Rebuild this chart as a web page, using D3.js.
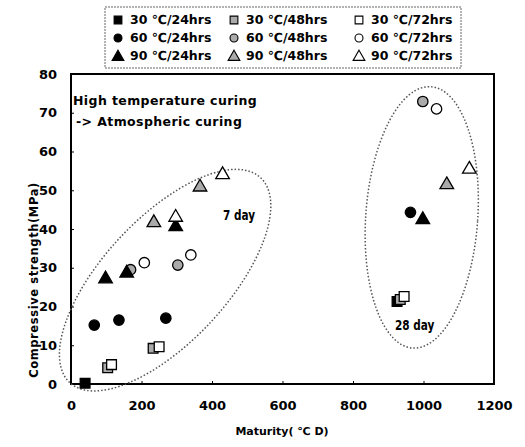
<!DOCTYPE html>
<html>
<head>
<meta charset="utf-8">
<script src="https://cdn.jsdelivr.net/npm/d3@7"></script>
<style>
  body { margin: 0; background: #fff; }
  text { font-family: "DejaVu Sans", sans-serif; font-weight: bold; }
</style>
</head>
<body>
<script>
// series names, [maturity, strength] pairs
var seriesNames = ["30 ℃/24hrs", "30 ℃/48hrs", "30 ℃/72hrs",
                   "60 ℃/24hrs", "60 ℃/48hrs", "60 ℃/72hrs",
                   "90 ℃/24hrs", "90 ℃/48hrs", "90 ℃/72hrs"];
var s30_24 = [[40, 0.2], [925, 21.3]];
var s30_48 = [[104, 4.2], [233, 9.2], [934, 21.8]];
var s30_72 = [[115, 5.0], [250, 9.6], [945, 22.6]];
var s60_24 = [[66, 15.2], [136, 16.5], [269, 17.0], [963, 44.3]];
var s60_48 = [[169, 29.5], [303, 30.7], [998, 72.9]];
var s60_72 = [[208, 31.3], [340, 33.3], [1037, 71.0]];
var s90_24 = [[98, 27.5], [158, 29.0], [297, 41.0], [998, 42.8]];
var s90_48 = [[235, 42.0], [366, 51.2], [1066, 51.8]];
var s90_72 = [[297, 43.4], [430, 54.4], [1130, 55.8]];
var xTicks = [0, 200, 400, 600, 800, 1000, 1200];
var yTicks = [0, 10, 20, 30, 40, 50, 60, 70, 80];

var allSeries = [s30_24, s30_48, s30_72, s60_24, s60_48, s60_72, s90_24, s90_48, s90_72];
var shapes = ["square", "square", "square", "circle", "circle", "circle", "triangle", "triangle", "triangle"];
var fills = ["#000", "#aaa", "#fff", "#000", "#aaa", "#fff", "#000", "#aaa", "#fff"];

var width = 525, height = 447;
var svg = d3.select("body").append("svg")
    .attr("width", width).attr("height", height);

var x = d3.scaleLinear().domain([0, 1200]).range([71, 494]);
var y = d3.scaleLinear().domain([0, 80]).range([384, 74]);

var symType = {square: d3.symbolSquare, circle: d3.symbolCircle, triangle: d3.symbolTriangle};
var symSize = {square: 95, circle: 85, triangle: 80};
function sym(s) { return d3.symbol().type(symType[s]).size(symSize[s])(); }

// frame
svg.append("rect")
    .attr("x", 71).attr("y", 74).attr("width", 423).attr("height", 310)
    .attr("fill", "none").attr("stroke", "#000").attr("stroke-width", 2);

// axes
var xAxis = svg.append("g").attr("transform", "translate(0,384)")
    .call(d3.axisBottom(x).tickValues(xTicks).tickFormat(d3.format("d")).tickSize(-3).tickPadding(17));
var yAxis = svg.append("g").attr("transform", "translate(71,0)")
    .call(d3.axisLeft(y).tickValues(yTicks).tickSize(-3).tickPadding(14));
[xAxis, yAxis].forEach(function(a) {
  a.select(".domain").remove();
  a.selectAll("text").attr("font-size", 13).attr("fill", "#000")
    .style("font-family", "'DejaVu Sans', sans-serif").style("font-weight", "bold");
});

svg.append("text").attr("x", 282).attr("y", 435).attr("text-anchor", "middle")
    .attr("font-size", 11).text("Maturity( ℃ D)");
svg.append("text").attr("transform", "translate(38,280) rotate(-90)")
    .attr("text-anchor", "middle").attr("font-size", 11.5).attr("letter-spacing", 0.6)
    .text("Compressive strength(MPa)");

// dotted ellipses
svg.append("ellipse")
    .attr("transform", "translate(" + x(267) + "," + y(26.8) + ") rotate(-47)")
    .attr("rx", 140).attr("ry", 62)
    .attr("fill", "none").attr("stroke", "#555").attr("stroke-width", 1.5)
    .attr("stroke-dasharray", "1.5,2");
svg.append("ellipse")
    .attr("transform", "translate(" + x(995) + "," + y(43) + ") rotate(4)")
    .attr("rx", 56).attr("ry", 131)
    .attr("fill", "none").attr("stroke", "#555").attr("stroke-width", 1.5)
    .attr("stroke-dasharray", "1.5,2");

svg.append("text").attr("x", 73).attr("y", 105).attr("font-size", 12.5).attr("letter-spacing", 0.4)
    .text("High temperature curing");
svg.append("text").attr("x", 76).attr("y", 126).attr("font-size", 12.5).attr("letter-spacing", 0.4)
    .text(" -> Atmospheric curing");
svg.append("text").attr("x", 223).attr("y", 220).attr("font-size", 14)
    .attr("transform", "translate(223,220) scale(0.75,1) translate(-223,-220)")
    .text("7 day");
svg.append("text").attr("x", 395).attr("y", 330).attr("font-size", 14)
    .attr("transform", "translate(395,330) scale(0.75,1) translate(-395,-330)")
    .text("28 day");

// points
allSeries.forEach(function(data, i) {
  svg.selectAll(null).data(data).enter().append("path")
      .attr("d", sym(shapes[i]))
      .attr("transform", function(d) {
        var dy = shapes[i] === "triangle" ? 1.5 : 0;
        return "translate(" + x(d[0]) + "," + (y(d[1]) + dy) + ")";
      })
      .attr("fill", fills[i]).attr("stroke", "#000").attr("stroke-width", 1.3);
});

// legend
var lg = svg.append("g");
lg.append("rect").attr("x", 105).attr("y", 7).attr("width", 356).attr("height", 61)
    .attr("fill", "#fff").attr("stroke", "#666").attr("stroke-width", 1)
    .attr("stroke-dasharray", "2,1");
var colX = [118, 234, 359], rowY = [24, 42, 60];
seriesNames.forEach(function(name, i) {
  var cx = colX[i % 3], cy = rowY[Math.floor(i / 3)];
  var s = shapes[i];
  var sizeMap = {square: 60, circle: 50, triangle: 60};
  lg.append("path")
      .attr("d", d3.symbol().type(symType[s]).size(sizeMap[s])())
      .attr("transform", "translate(" + cx + "," + (cy - 4 + (s === "triangle" ? 1 : 0)) + ")")
      .attr("fill", fills[i]).attr("stroke", "#000").attr("stroke-width", 1.1);
  lg.append("text").attr("x", cx + 12).attr("y", cy).attr("font-size", 12.5)
      .text(name);
});
</script>
</body>
</html>
